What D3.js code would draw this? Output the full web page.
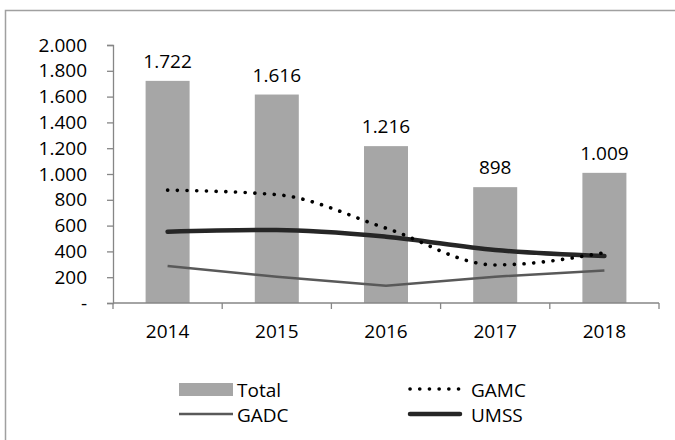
<!DOCTYPE html>
<html><head><meta charset="utf-8">
<script src="https://cdn.jsdelivr.net/npm/d3@7"></script>
<style>body{margin:0;background:#fff}svg{display:block}</style>
</head><body>
<svg id="c" width="675" height="440"></svg>
<script>
const years = ["2014","2015","2016","2017","2018"];
const total = [1722, 1616, 1216, 898, 1009];
const gamc = [875, 840, 580, 295, 390];
const gadc = [287, 204, 134, 204, 251];
const umss = [553, 566, 514, 411, 364];
const yTicks = [0, 200, 400, 600, 800, 1000, 1200, 1400, 1600, 1800, 2000];
const totalLabels = ["1.722", "1.616", "1.216", "898", "1.009"];

const fmt = v => v === 0 ? "-" : d3.format(",")(v).replace(/,/g, ".");
const FONT = "'Open Sans', 'Noto Sans', sans-serif";

const svg = d3.select("#c");
svg.append("rect").attr("x", 5.5).attr("y", 10.5).attr("width", 700).attr("height", 460)
  .attr("fill", "#fff").attr("stroke", "#a0a0a0").attr("stroke-width", 1.5);

const xc = d3.scaleBand().domain(years).range([113, 659]);
const y = d3.scaleLinear().domain([0, 2000]).range([303, 45]);
const cx = d => xc(d) + xc.bandwidth() / 2;

svg.append("g").selectAll("rect").data(years).join("rect")
  .attr("x", d => cx(d) - 22).attr("width", 44)
  .attr("y", (d, i) => y(total[i])).attr("height", (d, i) => y(0) - y(total[i]))
  .attr("fill", "#a6a6a6");

const yAxis = svg.append("g").attr("transform", "translate(113,0)")
  .call(d3.axisLeft(y).tickValues(yTicks).tickFormat(fmt).tickSize(6).tickPadding(20));
const xAxis = svg.append("g").attr("transform", "translate(0,303)")
  .call(d3.axisBottom(xc).tickSize(0).tickPadding(22));
[yAxis, xAxis].forEach(g => {
  g.selectAll("path,line").attr("stroke", "#868686").attr("stroke-width", 1.3);
  g.selectAll("text").attr("font-family", FONT).attr("font-size", 19).attr("fill", "#000");
});
xAxis.select(".domain").attr("d", "M113,0H659");
svg.append("g").selectAll("line").data(years.concat(["end"])).join("line")
  .attr("x1", (d, i) => i < years.length ? xc(d) : 659)
  .attr("x2", (d, i) => i < years.length ? xc(d) : 659)
  .attr("y1", 303).attr("y2", 309).attr("stroke", "#868686").attr("stroke-width", 1.3);

svg.append("g").selectAll("text").data(years).join("text")
  .attr("x", d => cx(d)).attr("y", (d, i) => y(total[i]) - 13)
  .attr("text-anchor", "middle").attr("font-family", FONT).attr("font-size", 19)
  .text((d, i) => totalLabels[i]);

const smooth = d3.line().x((d, i) => cx(years[i])).y(d => y(d)).curve(d3.curveMonotoneX);
const straight = d3.line().x((d, i) => cx(years[i])).y(d => y(d));
svg.append("path").attr("d", straight(gadc)).attr("fill", "none")
  .attr("stroke", "#595959").attr("stroke-width", 2.5);
svg.append("path").attr("d", smooth(umss)).attr("fill", "none")
  .attr("stroke", "#262626").attr("stroke-width", 4.5).attr("stroke-linecap", "round");
svg.append("path").attr("d", smooth(gamc)).attr("fill", "none")
  .attr("stroke", "#000").attr("stroke-width", 3.6).attr("stroke-linecap", "round")
  .attr("stroke-dasharray", "0.1 9.6");

const lg = svg.append("g").attr("font-family", FONT).attr("font-size", 19);
lg.append("rect").attr("x", 179).attr("y", 383).attr("width", 54).attr("height", 13).attr("fill", "#a6a6a6");
lg.append("text").attr("x", 237).attr("y", 397).text("Total");
lg.append("line").attr("x1", 179).attr("x2", 233).attr("y1", 414).attr("y2", 414)
  .attr("stroke", "#595959").attr("stroke-width", 2.5);
lg.append("text").attr("x", 237).attr("y", 422).text("GADC");
lg.append("line").attr("x1", 410).attr("x2", 460).attr("y1", 389).attr("y2", 389)
  .attr("stroke", "#000").attr("stroke-width", 3.6).attr("stroke-linecap", "round").attr("stroke-dasharray", "0.1 9.6");
lg.append("text").attr("x", 471).attr("y", 397).text("GAMC");
lg.append("line").attr("x1", 410).attr("x2", 460).attr("y1", 414).attr("y2", 414)
  .attr("stroke", "#262626").attr("stroke-width", 4.5).attr("stroke-linecap", "round");
lg.append("text").attr("x", 471).attr("y", 422).text("UMSS");
</script>
</body></html>
